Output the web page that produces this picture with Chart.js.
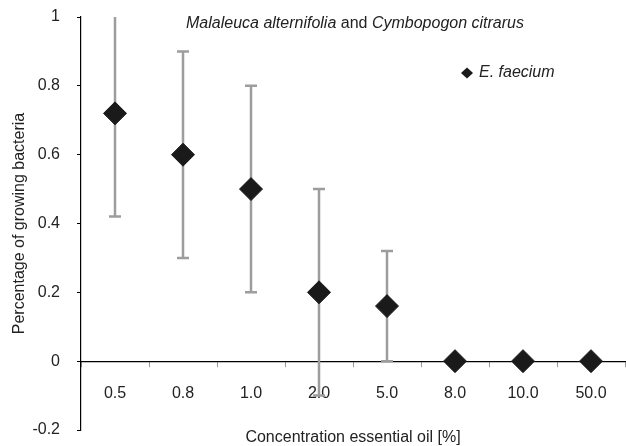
<!DOCTYPE html>
<html>
<head>
<meta charset="utf-8">
<script src="https://cdn.jsdelivr.net/npm/chart.js@4"></script>
<style>
  html, body { margin: 0; padding: 0; background: #fff; }
  #wrap { width: 626px; height: 446px; }
</style>
</head>
<body>
<div id="wrap"><canvas id="oilChart"></canvas></div>
<script>
// Datos
const concentrations = ['0.5', '0.8', '1.0', '2.0', '5.0', '8.0', '10.0', '50.0'];
const growth = [0.72, 0.6, 0.5, 0.2, 0.16, 0, 0, 0];
const errLow = [0.42, 0.3, 0.2, -0.1, 0, null, null, null];
const errHigh = [1.02, 0.9, 0.8, 0.5, 0.32, null, null, null];
const yTicks = [-0.2, 0, 0.2, 0.4, 0.6, 0.8, 1];

const FONT = "'Liberation Sans', Arial, sans-serif";
const ctx = document.getElementById('oilChart').getContext('2d');

// Barras de error (gris) dibujadas antes de los puntos
const errorBars = {
  id: 'errorBars',
  beforeDatasetsDraw(chart) {
    const { ctx, chartArea, scales } = chart;
    ctx.save();
    ctx.beginPath();
    ctx.rect(chartArea.left, chartArea.top, chartArea.right - chartArea.left, chartArea.bottom - chartArea.top);
    ctx.clip();
    ctx.strokeStyle = '#9d9d9d';
    ctx.lineWidth = 2.5;
    concentrations.forEach((c, i) => {
      if (errLow[i] === null) return;
      const x = scales.x.getPixelForValue(i);
      const yLo = scales.y.getPixelForValue(errLow[i]);
      const yHi = scales.y.getPixelForValue(errHigh[i]);
      ctx.beginPath();
      ctx.moveTo(x, yLo);
      ctx.lineTo(x, yHi);
      ctx.moveTo(x - 6, yLo);
      ctx.lineTo(x + 6, yLo);
      ctx.moveTo(x - 6, yHi);
      ctx.lineTo(x + 6, yHi);
      ctx.stroke();
    });
    ctx.restore();
  }
};

// Título con partes en cursiva y leyenda dentro del área del gráfico
const annotations = {
  id: 'annotations',
  afterDraw(chart) {
    const { ctx } = chart;
    ctx.save();
    ctx.fillStyle = '#222';
    ctx.textBaseline = 'middle';
    const parts = [
      ['italic', 'Malaleuca alternifolia'],
      ['normal', ' and '],
      ['italic', 'Cymbopogon citrarus']
    ];
    let total = 0;
    parts.forEach(p => { ctx.font = p[0] + ' 16px ' + FONT; total += ctx.measureText(p[1]).width; });
    let x = 355 - total / 2;
    parts.forEach(p => {
      ctx.font = p[0] + ' 16px ' + FONT;
      ctx.fillText(p[1], x, 24);
      x += ctx.measureText(p[1]).width;
    });

    // leyenda
    ctx.fillStyle = '#1a1a1a';
    ctx.beginPath();
    ctx.moveTo(467, 67.5);
    ctx.lineTo(473, 73);
    ctx.lineTo(467, 78.5);
    ctx.lineTo(461, 73);
    ctx.closePath();
    ctx.fill();
    ctx.fillStyle = '#222';
    ctx.font = 'italic 16px ' + FONT;
    ctx.fillText('E. faecium', 479, 73);
    ctx.restore();
  }
};

const oilChart = new Chart(ctx, {
  type: 'line',
  data: {
    labels: concentrations,
    datasets: [{
      label: 'E. faecium',
      data: growth,
      showLine: false,
      pointStyle: 'rectRot',
      pointRadius: 11.5,
      pointHoverRadius: 11.5,
      backgroundColor: '#1a1a1a',
      borderColor: '#1a1a1a',
      borderWidth: 1
    }]
  },
  options: {
    responsive: true,
    maintainAspectRatio: false,
    animation: false,
    layout: { autoPadding: false, padding: { top: 17, right: 1, left: 0, bottom: 0 } },
    plugins: {
      legend: { display: false },
      tooltip: { enabled: false },
      subtitle: {
        display: true,
        position: 'bottom',
        fullSize: false,
        text: 'Concentration essential oil [%]',
        color: '#222',
        font: { family: FONT, size: 16, weight: 'normal', lineHeight: 1 },
        padding: { top: 0, bottom: 0 }
      }
    },
    scales: {
      x: {
        type: 'category',
        position: { y: 0 },
        offset: true,
        afterFit(scale) {
          scale.height = 0;
          scale.paddingLeft = 0;
          scale.paddingRight = 0;
        },
        grid: { drawOnChartArea: false, drawTicks: true, tickLength: 5, offset: true, color: '#999' },
        border: { display: true, color: '#000', width: 1.2 },
        ticks: { color: '#222', padding: 18, font: { family: FONT, size: 16 } }
      },
      y: {
        min: -0.2,
        max: 1,
        afterBuildTicks(scale) { scale.ticks = yTicks.map(v => ({ value: v })); },
        afterFit(scale) {
          scale.width = 81;
          scale.paddingTop = 0;
          scale.paddingBottom = 0;
        },
        grid: { drawOnChartArea: false, drawTicks: true, tickLength: 4, color: '#000' },
        border: { display: true, color: '#000', width: 1.2 },
        ticks: {
          color: '#222',
          padding: 17,
          font: { family: FONT, size: 16 },
          callback: v => String(Math.round(v * 10) / 10)
        },
        title: {
          display: true,
          text: 'Percentage of growing bacteria',
          color: '#222',
          font: { family: FONT, size: 16 },
          padding: { top: 10, bottom: 0 }
        }
      }
    }
  },
  plugins: [errorBars, annotations]
});
</script>
</body>
</html>
